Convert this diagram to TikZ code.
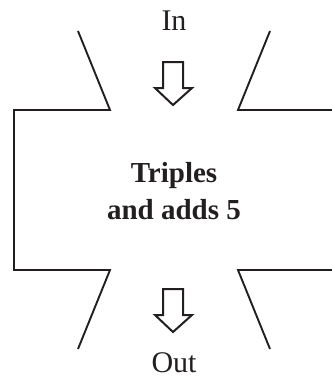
\documentclass[tikz,border=0pt]{standalone}
\usepackage{fontspec}
\setmainfont{Liberation Serif}
\definecolor{ink}{HTML}{231F20}
\begin{document}
\begin{tikzpicture}[x=1pt,y=-1pt,
  edge/.style={draw=ink, line width=1.9pt, line join=miter},
  hollowarrow/.style={draw=ink, line width=2pt, fill=white, line join=miter},
  lbl/.style={text=ink, font=\fontsize{30}{36}\selectfont, inner sep=0pt, anchor=base},
  blbl/.style={text=ink, font=\fontsize{29}{35}\selectfont\bfseries, inner sep=0pt, anchor=base}]
\useasboundingbox (0,0) rectangle (332,378);
% machine outline
\draw[edge] (78,31) -- (110,110) -- (14,110) -- (14,270) -- (110,270) -- (78,349);
\draw[edge] (270,31) -- (238,110) -- (334,110);
\draw[edge] (270,349) -- (238,270) -- (334,270);
% labels
\node[lbl] (in) at (174,30) {In};
\node[lbl] (out) at (174,372) {Out};
\node[blbl] (t1) at (174,182) {Triples};
\node[blbl] (t2) at (174,219) {and adds 5};
% hollow arrows
\draw[hollowarrow] (163,62) -- (183,62) -- (183,88) -- (192,88) -- (173,105) -- (155,88) -- (163,88) -- cycle;
\draw[hollowarrow] (163,289) -- (183,289) -- (183,315) -- (192,315) -- (173,332) -- (155,315) -- (163,315) -- cycle;
\end{tikzpicture}
\end{document}
